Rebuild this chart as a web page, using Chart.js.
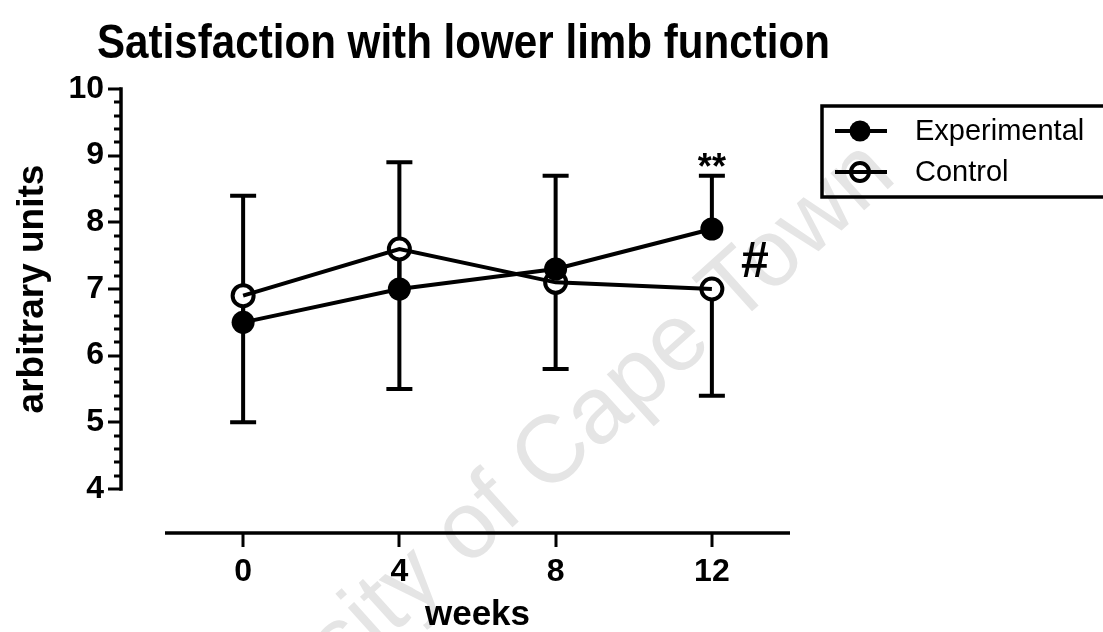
<!DOCTYPE html>
<html><head><meta charset="utf-8">
<script src="https://cdn.jsdelivr.net/npm/chart.js@4.4.1/dist/chart.umd.min.js"></script>
<style>html,body{margin:0;padding:0;background:#fff;}canvas{display:block;}</style>
</head><body>
<canvas id="c" width="1103" height="632"></canvas>
<script>
// ---- data ----
const weeks = [0, 4, 8, 12];
const xTickValues = [0, 4, 8, 12];
const yTickValues = [4, 5, 6, 7, 8, 9, 10];
const experimental = [6.5, 7.0, 7.3, 7.9];
const control = [6.9, 7.6, 7.1, 7.0];
const experimentalUpper = [8.4, 8.9, 8.7, 8.7];
const controlLower = [5.0, 5.5, 5.8, 5.4];
const seriesNames = ['Experimental', 'Control'];
const titleText = 'Satisfaction with lower limb function';
const xTitleText = 'weeks';
const yTitleText = 'arbitrary units';
const starLabel = '**';
const hashLabel = '#';
const watermarkText = 'University of Cape Town';

const FONT = '"Liberation Sans", Arial, Helvetica, sans-serif';

const decor = {
  id: 'decor',
  beforeDraw(chart) {
    const ctx = chart.ctx;
    ctx.save();
    ctx.fillStyle = '#fff';
    ctx.fillRect(0, 0, chart.width, chart.height);
    ctx.translate(518, 522);
    ctx.rotate(-42 * Math.PI / 180);
    ctx.font = '95px ' + FONT;
    ctx.fillStyle = '#e5e5e5';
    ctx.textAlign = 'center';
    ctx.textBaseline = 'alphabetic';
    ctx.fillText(watermarkText, 0, 0);
    ctx.restore();
  },
  beforeDatasetsDraw(chart) {
    const ctx = chart.ctx, xs = chart.scales.x, ys = chart.scales.y;
    ctx.save();
    ctx.strokeStyle = '#000';
    ctx.lineWidth = 4;
    ctx.lineCap = 'butt';
    const cap = 13;
    weeks.forEach((w, i) => {
      const px = xs.getPixelForValue(w);
      const pairs = [[experimental[i], experimentalUpper[i]], [control[i], controlLower[i]]];
      pairs.forEach(([a, b]) => {
        const ya = ys.getPixelForValue(a), yb = ys.getPixelForValue(b);
        ctx.beginPath();
        ctx.moveTo(px, ya); ctx.lineTo(px, yb);
        ctx.moveTo(px - cap, yb); ctx.lineTo(px + cap, yb);
        ctx.stroke();
      });
    });
    ctx.restore();
  },
  afterDraw(chart) {
    const ctx = chart.ctx, xs = chart.scales.x, ys = chart.scales.y, ca = chart.chartArea;
    ctx.save();
    ctx.strokeStyle = '#000';
    ctx.fillStyle = '#000';
    ctx.lineWidth = 3.5;
    // y axis (offset left of the plot frame)
    const ax = ca.left - 44;
    const yTop = ys.getPixelForValue(ys.max), yBot = ys.getPixelForValue(ys.min);
    ctx.beginPath();
    ctx.moveTo(ax, yTop - 1.75); ctx.lineTo(ax, yBot + 1.75);
    ctx.stroke();
    ctx.lineWidth = 3;
    for (let v = ys.min; v <= ys.max + 1e-9; v += 0.2) {
      const major = Math.abs(v - Math.round(v)) < 1e-6;
      const py = Math.round(ys.getPixelForValue(v));
      ctx.beginPath();
      ctx.moveTo(ax, py); ctx.lineTo(ax - (major ? 13 : 7), py);
      ctx.stroke();
    }
    // x axis (offset below the plot frame)
    const ay = ca.bottom + 44;
    ctx.lineWidth = 3.5;
    ctx.beginPath();
    ctx.moveTo(xs.getPixelForValue(xs.min), ay); ctx.lineTo(xs.getPixelForValue(xs.max), ay);
    ctx.stroke();
    ctx.lineWidth = 3;
    xTickValues.forEach(v => {
      const px = Math.round(xs.getPixelForValue(v));
      ctx.beginPath();
      ctx.moveTo(px, ay); ctx.lineTo(px, ay + 14);
      ctx.stroke();
    });
    // chart title (condensed to the reference width)
    ctx.save();
    ctx.textAlign = 'left';
    ctx.textBaseline = 'alphabetic';
    ctx.font = 'bold 48px ' + FONT;
    const tw = ctx.measureText(titleText).width;
    ctx.translate(97, 58);
    ctx.scale(733 / tw, 1);
    ctx.fillText(titleText, 0, 0);
    ctx.restore();
    // axis titles
    ctx.textAlign = 'center';
    ctx.textBaseline = 'alphabetic';
    ctx.font = 'bold 35px ' + FONT;
    ctx.fillText(xTitleText, (ca.left + ca.right) / 2, 625);
    ctx.save();
    ctx.font = 'bold 37px ' + FONT;
    ctx.translate(43, ys.getPixelForValue(7));
    ctx.rotate(-Math.PI / 2);
    ctx.fillText(yTitleText, 0, 0);
    ctx.restore();
    // significance marks
    const x12 = xs.getPixelForValue(weeks[3]);
    ctx.font = 'bold 36px ' + FONT;
    ctx.fillText(starLabel, x12, ys.getPixelForValue(experimentalUpper[3]) + 3);
    ctx.font = 'bold 50px ' + FONT;
    ctx.fillText(hashLabel, x12 + 43, ys.getPixelForValue(control[3]) - 12);
    // legend
    const lx = 822, lt = 106, lb = 197;
    ctx.lineWidth = 3.5;
    ctx.strokeRect(lx, lt, 400, lb - lt);
    const rows = [131, 172];
    chart.data.datasets.slice(0, 2).forEach((ds, i) => {
      const ry = rows[i];
      ctx.lineWidth = 4;
      ctx.beginPath();
      ctx.moveTo(835, ry); ctx.lineTo(887, ry);
      ctx.stroke();
      ctx.beginPath();
      ctx.arc(860, ry, i === 0 ? 10.5 : 9, 0, Math.PI * 2);
      if (i === 0) { ctx.fillStyle = '#000'; ctx.fill(); }
      else { ctx.fillStyle = '#fff'; ctx.fill(); ctx.lineWidth = 4; ctx.stroke();
        ctx.beginPath(); ctx.moveTo(851, ry); ctx.lineTo(869, ry); ctx.stroke(); }
      ctx.fillStyle = '#000';
      ctx.font = '29px ' + FONT;
      ctx.textAlign = 'left';
      ctx.textBaseline = 'middle';
      ctx.fillText(seriesNames[i], 915, ry + 1);
    });
    ctx.restore();
  }
};

const pts = arr => weeks.map((w, i) => ({ x: w, y: arr[i] }));

new Chart(document.getElementById('c'), {
  type: 'line',
  data: {
    datasets: [
      { label: seriesNames[0], data: pts(experimental), borderColor: '#000', borderWidth: 4,
        pointRadius: 11.5, pointBackgroundColor: '#000', pointBorderWidth: 0, order: 1 },
      { label: seriesNames[1], data: pts(control), borderColor: '#000', borderWidth: 4, showLine: false,
        pointRadius: 10.5, pointBackgroundColor: '#fff', pointBorderColor: '#000', pointBorderWidth: 4, order: 2 },
      { label: seriesNames[1] + ' line', data: pts(control), borderColor: '#000', borderWidth: 4,
        pointRadius: 0, order: 0 }
    ]
  },
  options: {
    responsive: false,
    animation: false,
    devicePixelRatio: 1,
    events: [],
    layout: { padding: { left: 10, right: 313, top: 89, bottom: 0 } },
    plugins: { legend: { display: false }, title: { display: false }, tooltip: { enabled: false } },
    scales: {
      x: {
        type: 'linear', min: -2, max: 14,
        afterBuildTicks: s => { s.ticks = xTickValues.map(v => ({ value: v })); },
        afterFit: s => { s.height = 143; },
        grid: { display: false }, border: { display: false },
        ticks: { color: '#000', padding: 56, font: { family: FONT, size: 32, weight: 'bold' } }
      },
      y: {
        type: 'linear', min: 4, max: 10,
        afterBuildTicks: s => { s.ticks = yTickValues.map(v => ({ value: v })); },
        afterFit: s => { s.width = 155; },
        grid: { display: false }, border: { display: false },
        ticks: { color: '#000', padding: 53, font: { family: FONT, size: 32, weight: 'bold' } }
      }
    }
  },
  plugins: [decor]
});
</script>
</body></html>
